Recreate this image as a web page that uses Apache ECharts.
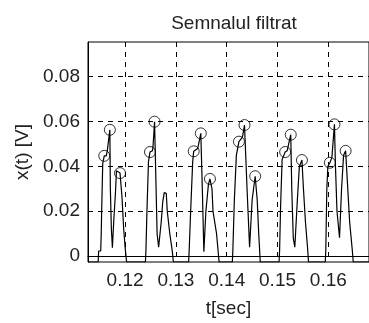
<!DOCTYPE html>
<html>
<head>
<meta charset="utf-8">
<script src="https://cdn.jsdelivr.net/npm/echarts@6/dist/echarts.min.js"></script>
<style>
  html, body { margin: 0; padding: 0; background: #fff; }
  #chart { width: 369px; height: 323px; }
</style>
</head>
<body>
<div id="chart"></div>
<script>
// Filtered signal samples: time [s] and amplitude [V]
const signalT = [
  0.1127,
  0.1147, 0.1148, 0.1152, 0.1153, 0.1154, 0.1156, 0.1159, 0.1163, 0.1165, 0.1170,
  0.1171, 0.1173, 0.1175, 0.1177, 0.1178, 0.1181, 0.1183, 0.1190, 0.1194, 0.1197,
  0.1200, 0.1203,
  0.1240, 0.1241, 0.1243, 0.1246, 0.1249, 0.1254, 0.1255, 0.1258, 0.1260, 0.1263,
  0.1266, 0.1269, 0.1271, 0.1274, 0.1277, 0.1281, 0.1283, 0.1288, 0.1293, 0.1295,
  0.1325, 0.1326, 0.1329, 0.1333, 0.1335, 0.1343, 0.1349, 0.1352, 0.1355, 0.1357,
  0.1359, 0.1364, 0.1367, 0.1371, 0.1373, 0.1380, 0.1385,
  0.1411, 0.1412, 0.1415, 0.1419, 0.1424, 0.1431, 0.1435, 0.1440, 0.1445, 0.1447,
  0.1450, 0.1456, 0.1460, 0.1463, 0.1466,
  0.1503, 0.1504, 0.1506, 0.1509, 0.1515, 0.1519, 0.1526, 0.1528, 0.1531, 0.1534,
  0.1537, 0.1539, 0.1543, 0.1548, 0.1551, 0.1555, 0.1559, 0.1561,
  0.1594, 0.1595, 0.1597, 0.1599, 0.1603, 0.1607, 0.1612, 0.1614, 0.1617, 0.1622,
  0.1624, 0.1626, 0.1630, 0.1634, 0.1637, 0.1642, 0.1647, 0.1649,
  0.1680
];
const signalV = [
  -0.0026,
  -0.0026, 0.0023, 0.0023, 0.0095, 0.0212, 0.0413, 0.0447, 0.0447, 0.0470, 0.0563,
  0.0300, 0.0120, 0.0038, 0.0038, 0.0170, 0.0280, 0.0380, 0.0370, 0.0260, 0.0130,
  0.0040, -0.0026,
  -0.0026, 0.0023, 0.0200, 0.0420, 0.0464, 0.0470, 0.0490, 0.0599, 0.0400, 0.0100,
  0.0040, 0.0040, 0.0150, 0.0240, 0.0283, 0.0280, 0.0200, 0.0100, 0.0020, -0.0026,
  -0.0026, 0.0020, 0.0200, 0.0420, 0.0467, 0.0480, 0.0547, 0.0300, 0.0020, 0.0020,
  0.0200, 0.0320, 0.0344, 0.0300, 0.0200, 0.0100, -0.0026,
  -0.0026, 0.0020, 0.0250, 0.0450, 0.0510, 0.0530, 0.0584, 0.0300, 0.0040, 0.0040,
  0.0250, 0.0356, 0.0250, 0.0100, -0.0026,
  -0.0026, 0.0020, 0.0220, 0.0430, 0.0464, 0.0470, 0.0541, 0.0300, 0.0080, 0.0040,
  0.0040, 0.0250, 0.0400, 0.0428, 0.0300, 0.0150, 0.0040, -0.0026,
  -0.0026, 0.0030, 0.0300, 0.0400, 0.0416, 0.0440, 0.0587, 0.0400, 0.0200, 0.0082,
  0.0082, 0.0300, 0.0450, 0.0469, 0.0350, 0.0150, 0.0030, -0.0026,
  -0.0026
];

// Detected peaks (circle markers)
const peakT = [0.1159, 0.1170, 0.1190, 0.1249, 0.1258, 0.1335, 0.1349, 0.1367,
               0.1424, 0.1435, 0.1456, 0.1515, 0.1526, 0.1548, 0.1603, 0.1612, 0.1634];
const peakV = [0.0447, 0.0563, 0.0370, 0.0464, 0.0599, 0.0467, 0.0547, 0.0344,
               0.0510, 0.0584, 0.0356, 0.0464, 0.0541, 0.0428, 0.0416, 0.0587, 0.0469];

// Axis ranges and tick labels
const xRange = [0.1127, 0.1680];
const yRange = [-0.0026, 0.0954];
const xTicks = [0.12, 0.13, 0.14, 0.15, 0.16];
const yTicks = [0, 0.02, 0.04, 0.06, 0.08];

const titleText = 'Semnalul filtrat';
const xName = 't[sec]';
const yName = 'x(t) [V]';

const FONT = 'Liberation Sans, Arial, sans-serif';
const TEXT_COLOR = '#222';
const FONT_SIZE = 19;

const chart = echarts.init(document.getElementById('chart'), null, { renderer: 'canvas' });

const gridDash = { color: '#000', width: 1, type: [5, 5] };

chart.setOption({
  animation: false,
  backgroundColor: '#fff',
  title: {
    text: titleText,
    left: 229,
    top: 9,
    textAlign: 'center',
    textStyle: { fontFamily: FONT, fontSize: FONT_SIZE, fontWeight: 'normal', color: TEXT_COLOR }
  },
  grid: {
    left: 88, top: 42, right: -7, bottom: 55,
    show: true, borderColor: '#000', borderWidth: 1, backgroundColor: '#fff'
  },
  xAxis: {
    type: 'value',
    min: xRange[0], max: xRange[1],
    name: xName,
    nameLocation: 'middle',
    nameGap: 37,
    nameTextStyle: { fontFamily: FONT, fontSize: FONT_SIZE, color: TEXT_COLOR },
    axisLine: { show: true, lineStyle: { color: '#000', width: 1 } },
    axisTick: { show: true, inside: true, length: 4, customValues: xTicks, lineStyle: { color: '#000' } },
    axisLabel: {
      customValues: xTicks, margin: 9,
      fontFamily: FONT, fontSize: FONT_SIZE, color: TEXT_COLOR,
      formatter: v => v.toFixed(2)
    },
    splitLine: { show: true, lineStyle: gridDash }
  },
  yAxis: {
    type: 'value',
    min: yRange[0], max: yRange[1],
    name: yName,
    nameLocation: 'middle',
    nameGap: 50,
    nameRotate: 90,
    nameTextStyle: { fontFamily: FONT, fontSize: FONT_SIZE, color: TEXT_COLOR },
    axisLine: { show: true, lineStyle: { color: '#000', width: 1 } },
    axisTick: { show: true, inside: true, length: 4, customValues: yTicks, lineStyle: { color: '#000' } },
    axisLabel: {
      customValues: yTicks, margin: 8,
      fontFamily: FONT, fontSize: FONT_SIZE, color: TEXT_COLOR,
      formatter: v => (v === 0 ? '0' : v.toFixed(2))
    },
    splitLine: { show: true, lineStyle: gridDash }
  },
  series: [
    {
      type: 'line',
      data: signalT.map((t, i) => [t, signalV[i]]),
      showSymbol: false,
      lineStyle: { color: '#000', width: 1.2 },
      z: 3
    },
    {
      type: 'scatter',
      data: peakT.map((t, i) => [t, peakV[i]]),
      symbol: 'circle',
      symbolSize: 11,
      itemStyle: { color: 'rgba(0,0,0,0)', borderColor: '#000', borderWidth: 1 },
      z: 4
    }
  ]
});
</script>
</body>
</html>
